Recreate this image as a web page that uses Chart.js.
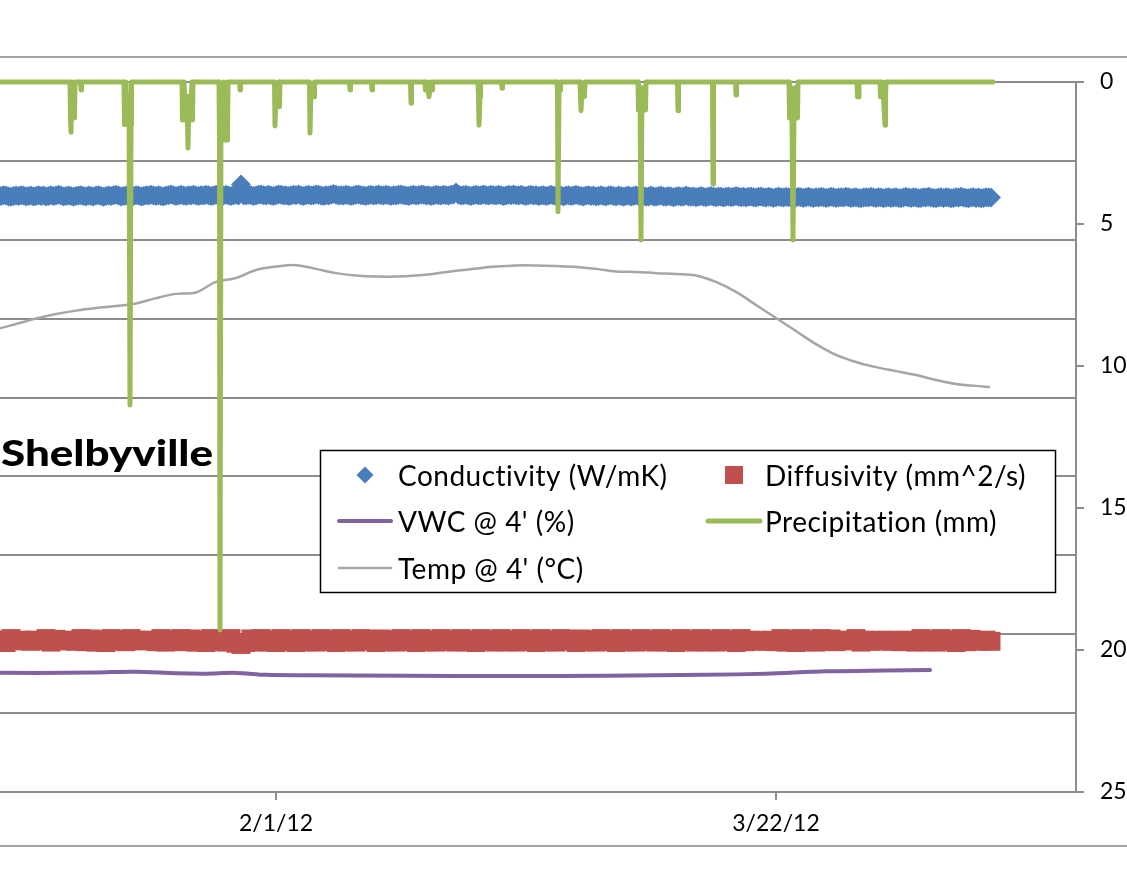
<!DOCTYPE html>
<html>
<head>
<meta charset="utf-8">
<title>Shelbyville</title>
<script src="https://cdn.jsdelivr.net/npm/chart.js@4.4.1/dist/chart.umd.min.js"></script>
<style>
  html, body { margin: 0; padding: 0; background: #fff; }
  #wrap { position: relative; width: 1127px; height: 880px; overflow: hidden; }
  canvas { display: block; }
</style>
</head>
<body>
<div id="wrap"><canvas id="c" width="1127" height="880"></canvas></div>
<script>
// ---------- data (x = day of year 2012) ----------
const xTickDays = [32, 82];
const xTickLabels = ['2/1/12', '3/22/12'];

// Conductivity (W/mK), one reading every 6 hours from day 3.75
const condStartDay = 3.75;
const condStepDays = 0.25;
const conductivity = [
  1.511,1.512,1.510,1.511,1.513,1.512,1.510,1.509,1.511,1.512,1.511,1.513,1.512,1.510,1.511,1.512,1.510,1.511,1.513,1.511,
  1.512,1.510,1.511,1.513,1.511,1.512,1.514,1.512,1.510,1.511,1.512,1.511,1.509,1.511,1.512,1.513,1.511,1.510,1.512,1.511,
  1.510,1.512,1.513,1.511,1.509,1.511,1.512,1.511,1.513,1.514,1.512,1.510,1.511,1.512,1.510,1.509,1.511,1.513,1.512,1.510,
  1.511,1.513,1.512,1.514,1.512,1.511,1.513,1.511,1.510,1.512,1.513,1.515,1.513,1.511,1.512,1.514,1.512,1.511,1.513,1.512,
  1.514,1.512,1.511,1.513,1.512,1.514,1.513,1.511,1.512,1.514,1.515,1.513,1.512,1.514,1.512,1.511,1.513,1.514,1.512,1.540,
  1.513,1.512,1.514,1.513,1.511,1.512,1.514,1.515,1.513,1.512,1.514,1.512,1.511,1.513,1.515,1.514,1.512,1.513,1.511,1.512,
  1.514,1.513,1.515,1.512,1.511,1.513,1.514,1.512,1.513,1.515,1.514,1.512,1.511,1.513,1.512,1.514,1.516,1.514,1.512,1.513,
  1.512,1.514,1.513,1.511,1.512,1.514,1.515,1.513,1.512,1.511,1.513,1.514,1.512,1.513,1.515,1.513,1.512,1.514,1.513,1.511,
  1.513,1.512,1.514,1.515,1.513,1.512,1.511,1.513,1.514,1.512,1.513,1.515,1.514,1.512,1.513,1.511,1.512,1.514,1.513,1.512,
  1.514,1.513,1.512,1.514,1.515,1.520,1.514,1.512,1.513,1.514,1.512,1.511,1.513,1.514,1.512,1.513,1.515,1.513,1.512,1.514,
  1.513,1.512,1.514,1.513,1.511,1.512,1.514,1.513,1.515,1.513,1.512,1.514,1.512,1.511,1.513,1.514,1.512,1.513,1.511,1.512,
  1.513,1.511,1.512,1.514,1.512,1.511,1.513,1.512,1.510,1.512,1.513,1.511,1.512,1.514,1.512,1.511,1.510,1.512,1.513,1.511,
  1.512,1.510,1.511,1.513,1.511,1.510,1.512,1.513,1.511,1.510,1.512,1.511,1.509,1.511,1.512,1.510,1.511,1.513,1.511,1.510,
  1.511,1.509,1.510,1.512,1.510,1.509,1.511,1.512,1.510,1.509,1.511,1.510,1.508,1.510,1.511,1.509,1.510,1.512,1.510,1.509,
  1.510,1.508,1.509,1.511,1.509,1.508,1.510,1.511,1.509,1.508,1.510,1.509,1.507,1.509,1.510,1.508,1.509,1.511,1.509,1.508,
  1.509,1.507,1.509,1.510,1.508,1.507,1.509,1.510,1.508,1.507,1.509,1.508,1.506,1.508,1.510,1.508,1.507,1.509,1.508,1.507,
  1.508,1.507,1.509,1.508,1.506,1.508,1.509,1.507,1.506,1.508,1.507,1.509,1.508,1.506,1.507,1.509,1.508,1.506,1.507,1.508,
  1.507,1.509,1.508,1.506,1.507,1.508,1.506,1.505,1.507,1.508,1.507,1.509,1.507,1.506,1.508,1.507,1.505,1.507,1.508,1.506,
  1.507,1.508,1.506,1.505,1.507,1.509,1.507,1.506,1.508,1.507,1.505,1.506,1.508,1.507,1.509,1.507,1.506,1.505,1.507,1.508,
  1.506,1.508,1.507,1.505,1.506,1.508,1.507,1.509,1.507,1.506,1.505,1.507,1.508,1.506,1.507,1.505,1.506,1.508,1.507,1.507
];

// Diffusivity (mm^2/s), one reading every 12 hours from day 3.5
const diffStartDay = 3.5;
const diffStepDays = 0.5;
const diffusivity = [
  0.388,0.381,0.386,0.379,0.389,0.383,0.385,0.384,0.382,0.385,
  0.384,0.389,0.380,0.387,0.383,0.385,0.384,0.382,0.389,0.381,
  0.388,0.380,0.386,0.379,0.389,0.383,0.387,0.381,0.389,0.385,
  0.384,0.383,0.385,0.381,0.389,0.380,0.387,0.382,0.389,0.381,
  0.388,0.380,0.386,0.379,0.389,0.382,0.387,0.380,0.389,0.377,
  0.374,0.379,0.388,0.381,0.389,0.380,0.386,0.379,0.389,0.382,
  0.387,0.379,0.389,0.381,0.386,0.380,0.389,0.382,0.387,0.379,
  0.389,0.381,0.386,0.380,0.389,0.383,0.387,0.379,0.388,0.381,
  0.386,0.380,0.389,0.382,0.387,0.379,0.389,0.381,0.386,0.380,
  0.389,0.382,0.387,0.380,0.389,0.381,0.386,0.379,0.389,0.382,
  0.387,0.380,0.389,0.381,0.386,0.380,0.389,0.382,0.387,0.379,
  0.389,0.381,0.386,0.380,0.389,0.383,0.387,0.379,0.388,0.381,
  0.386,0.380,0.389,0.382,0.387,0.379,0.389,0.381,0.386,0.380,
  0.389,0.382,0.387,0.380,0.389,0.381,0.386,0.379,0.389,0.382,
  0.387,0.380,0.389,0.381,0.386,0.380,0.389,0.382,0.387,0.379,
  0.389,0.381,0.385,0.383,0.384,0.382,0.385,0.381,0.389,0.380,
  0.387,0.379,0.389,0.381,0.386,0.380,0.389,0.382,0.388,0.381,
  0.385,0.383,0.384,0.389,0.380,0.385,0.382,0.384,0.383,0.385,
  0.382,0.384,0.381,0.385,0.383,0.380,0.389,0.381,0.387,0.380,
  0.389,0.382,0.386,0.379,0.389,0.381,0.387,0.384,0.382,0.385,
  0.382
];

// Volumetric water content at 4 ft
const vwcDays   = [1, 8, 14, 18, 22, 25, 28, 31, 35, 45, 55, 65, 75, 81, 87, 93, 97.4];
const vwcValues = [0.303, 0.302, 0.303, 0.305, 0.301, 0.300, 0.302, 0.297, 0.296,
                   0.295, 0.294, 0.295, 0.297, 0.300, 0.306, 0.308, 0.309];

// Soil temperature at 4 ft (°C)
const tempDays = [2, 4, 6, 8, 10, 12, 14, 16, 18, 20, 22, 24, 26, 28, 30, 32, 34, 36, 38,
                  40, 42, 44, 46, 48, 50, 52, 54, 56, 58, 60, 62, 64, 66, 68, 70, 72, 74,
                  76, 78, 80, 82, 84, 86, 88, 90, 92, 94, 96, 98, 100, 102, 103.4];
const tempValues = [8.80, 8.70, 8.52, 8.33, 8.17, 8.05, 7.96, 7.89, 7.80, 7.61, 7.46, 7.41,
                    7.04, 6.90, 6.62, 6.50, 6.45, 6.58, 6.73, 6.81, 6.85, 6.85, 6.81, 6.74,
                    6.65, 6.57, 6.50, 6.46, 6.46, 6.48, 6.51, 6.58, 6.67, 6.69, 6.73, 6.76,
                    6.81, 7.04, 7.39, 7.85, 8.31, 8.77, 9.23, 9.61, 9.86, 10.04, 10.18,
                    10.32, 10.49, 10.63, 10.70, 10.74];

// Precipitation readings (mm)
const precipDays = [
  0,
  11.40, 11.45, 11.50, 11.60, 11.75, 11.85, 11.90,
  12.45, 12.50, 12.55,
  16.80, 16.85, 17.00, 17.15, 17.30, 17.40, 17.50, 17.55,
  22.60, 22.65, 22.80, 22.95, 23.10, 23.20, 23.30, 23.45, 23.60, 23.65, 23.70,
  26.30, 26.35, 26.40, 26.50, 26.65, 26.80, 26.95, 27.10, 27.15, 27.20,
  28.35, 28.40, 28.45,
  31.85, 31.90, 32.00, 32.15, 32.30, 32.35, 32.40,
  35.35, 35.40, 35.50, 35.65, 35.80, 35.85,
  39.35, 39.40, 39.45,
  41.55, 41.60, 41.65,
  45.45, 45.50, 45.55,
  46.90, 46.95, 47.10, 47.30, 47.45, 47.60, 47.65,
  52.20, 52.25, 52.30, 52.40, 52.45,
  54.55, 54.60, 54.65,
  60.10, 60.15, 60.20, 60.30, 60.40, 60.45,
  62.40, 62.45, 62.50, 62.60, 62.75, 62.85, 62.90,
  68.20, 68.25, 68.40, 68.50, 68.60, 68.75, 68.90, 68.95, 69.00,
  72.15, 72.20, 72.25,
  75.65, 75.70, 75.75,
  77.95, 78.00, 78.05,
  83.30, 83.35, 83.50, 83.60, 83.70, 83.80, 83.95, 84.10, 84.15, 84.20,
  90.10, 90.15, 90.25, 90.30,
  92.40, 92.45, 92.60, 92.75, 92.90, 92.95, 93.00,
  103.7
];
const precipMm = [
  0,
  0, 1.27, 1.77, 0, 1.27, 1.27, 0,
  0, 0.28, 0,
  0, 1.50, 0, 1.50, 0.50, 11.37, 1.50, 0,
  0, 1.34, 0, 1.34, 0.50, 2.32, 0.50, 1.34, 0, 1.34, 0,
  0, 2.05, 19.30, 0.50, 2.05, 0, 2.05, 0.50, 2.05, 0,
  0, 0.28, 0,
  0, 1.55, 0.30, 0.87, 0, 0.87, 0,
  0, 1.80, 0.20, 0.52, 0.52, 0,
  0, 0.28, 0,
  0, 0.28, 0,
  0, 0.75, 0,
  0, 0.28, 0, 0.52, 0, 0.28, 0,
  0, 0.52, 1.52, 0.52, 0,
  0, 0.22, 0,
  0, 0.28, 4.57, 0.28, 0.28, 0,
  0, 0.52, 1.01, 0.20, 0.52, 0.52, 0,
  0, 0.99, 0.20, 5.56, 0.20, 0.99, 0.20, 0.99, 0,
  0, 1.01, 0,
  0, 3.59, 0,
  0, 0.46, 0,
  0, 1.27, 0.20, 1.27, 5.56, 1.00, 0.20, 1.27, 1.27, 0,
  0, 0.52, 0.52, 0,
  0, 0.52, 0, 0.52, 1.52, 0.52, 0,
  0
];

const chartTitle = 'Shelbyville';

// ---------- helpers ----------
const pairs = (xs, ys) => ys.map((y, i) => ({ x: xs[i], y }));
const regular = (start, step, vals) => vals.map((y, i) => ({ x: start + i * step, y }));

const GRID = '#8c8c8c';
const FONT = 'Lato, "Open Sans", sans-serif';

// Frame lines, boxed legend and the site name
const decorations = {
  id: 'decorations',
  beforeDraw(chart) {
    const { ctx, width } = chart;
    ctx.save();
    ctx.fillStyle = '#fff';
    ctx.fillRect(0, 0, width, chart.height);
    ctx.strokeStyle = '#a3a3a3';
    ctx.lineWidth = 2;
    ctx.beginPath();
    ctx.moveTo(0, 57); ctx.lineTo(width, 57);
    ctx.moveTo(0, 846); ctx.lineTo(width, 846);
    ctx.stroke();
    ctx.restore();
  },
  afterDraw(chart) {
    const ctx = chart.ctx;
    ctx.save();

    // legend box
    const box = { x: 320.5, y: 450.5, w: 735, h: 142 };
    ctx.fillStyle = '#fff';
    ctx.fillRect(box.x, box.y, box.w, box.h);
    ctx.strokeStyle = '#000';
    ctx.lineWidth = 1.5;
    ctx.strokeRect(box.x, box.y, box.w, box.h);

    const markerX = [365, 734];
    const textX = [398, 765];
    const rowY = [475, 521, 568];
    ctx.font = '28px ' + FONT;
    ctx.letterSpacing = '0.5px';
    ctx.textBaseline = 'alphabetic';
    chart.data.datasets.forEach((ds, i) => {
      const col = i % 2, row = Math.floor(i / 2);
      const cx = markerX[col], cy = rowY[row];
      if (ds.showLine === false) {
        ctx.fillStyle = ds.backgroundColor;
        ctx.beginPath();
        if (ds.pointStyle === 'rectRot') {
          const r = 8.5;
          ctx.moveTo(cx - r, cy); ctx.lineTo(cx, cy - r);
          ctx.lineTo(cx + r, cy); ctx.lineTo(cx, cy + r);
          ctx.closePath();
        } else {
          ctx.rect(cx - 9, cy - 9, 18, 18);
        }
        ctx.fill();
      } else {
        ctx.strokeStyle = ds.borderColor;
        ctx.lineWidth = ds.borderWidth;
        ctx.lineCap = 'round';
        ctx.beginPath();
        ctx.moveTo(cx - 26, cy); ctx.lineTo(cx + 26, cy);
        ctx.stroke();
      }
      ctx.fillStyle = '#000';
      ctx.fillText(ds.label, textX[col], cy + 10.5);
    });
    ctx.letterSpacing = '0px';

    // site name
    ctx.font = '900 36px ' + FONT;
    const w = ctx.measureText(chartTitle).width;
    ctx.translate(1, 466);
    ctx.scale(212 / w, 1);
    ctx.fillStyle = '#000';
    ctx.fillText(chartTitle, 0, 0);
    ctx.restore();
  }
};

function draw() {
  Chart.defaults.font.family = FONT;
  Chart.defaults.color = '#000';

  new Chart(document.getElementById('c'), {
    type: 'line',
    data: {
      datasets: [
        {
          label: 'Conductivity (W/mK)',
          data: regular(condStartDay, condStepDays, conductivity),
          yAxisID: 'y',
          showLine: false,
          pointStyle: 'rectRot',
          pointRadius: 10,
          pointBorderWidth: 0,
          backgroundColor: '#4a7ebb',
          borderColor: '#4a7ebb',
          order: 4
        },
        {
          label: 'Diffusivity (mm^2/s)',
          data: regular(diffStartDay, diffStepDays, diffusivity),
          yAxisID: 'y',
          showLine: false,
          pointStyle: 'rect',
          pointRadius: 13.4,
          pointBorderWidth: 0,
          backgroundColor: '#c0504d',
          borderColor: '#c0504d',
          order: 3
        },
        {
          label: "VWC @ 4' (%)",
          data: pairs(vwcDays, vwcValues),
          yAxisID: 'y',
          borderColor: '#8064a2',
          backgroundColor: '#8064a2',
          borderWidth: 4,
          borderCapStyle: 'round',
          pointRadius: 0,
          tension: 0.3,
          order: 2
        },
        {
          label: 'Precipitation (mm)',
          data: pairs(precipDays, precipMm),
          yAxisID: 'y1',
          borderColor: '#9bbb59',
          backgroundColor: '#9bbb59',
          borderWidth: 5,
          borderCapStyle: 'round',
          borderJoinStyle: 'round',
          pointRadius: 0,
          tension: 0,
          clip: { left: 0, top: 4, right: 0, bottom: 0 },
          order: 0
        },
        {
          label: "Temp @ 4' (°C)",
          data: pairs(tempDays, tempValues),
          yAxisID: 'y1',
          borderColor: '#a6a6a6',
          backgroundColor: '#a6a6a6',
          borderWidth: 2.5,
          pointRadius: 0,
          tension: 0.35,
          order: 1
        }
      ]
    },
    options: {
      responsive: false,
      animation: false,
      events: [],
      layout: { autoPadding: false, padding: { left: 0, top: 82, right: 0, bottom: 0 } },
      plugins: { legend: { display: false }, tooltip: { enabled: false } },
      scales: {
        x: {
          type: 'linear',
          min: 4.4,
          max: 112,
          afterBuildTicks: scale => { scale.ticks = xTickDays.map(v => ({ value: v })); },
          afterFit: scale => { scale.height = 88; scale.paddingLeft = 0; scale.paddingRight = 0; },
          ticks: {
            autoSkip: false,
            maxRotation: 0,
            minRotation: 0,
            padding: 10,
            font: { size: 23 },
            callback: v => { const i = xTickDays.indexOf(v); return i < 0 ? '' : xTickLabels[i]; }
          },
          grid: { display: true, drawOnChartArea: false, drawTicks: true, tickLength: 8, color: GRID, lineWidth: 2 },
          border: { display: true, color: GRID, width: 2 }
        },
        y: {
          position: 'left',
          min: 0,
          max: 1.8,
          ticks: { display: false, stepSize: 0.2 },
          afterFit: scale => { scale.width = 0; },
          grid: { color: GRID, lineWidth: 2, drawTicks: false },
          border: { display: false }
        },
        y1: {
          position: 'right',
          reverse: true,
          min: 0,
          max: 25,
          ticks: { stepSize: 5, padding: 16, font: { size: 23 } },
          afterFit: scale => { scale.width = 51; },
          grid: { drawOnChartArea: false, drawTicks: true, tickLength: 8, color: GRID, lineWidth: 2 },
          border: { display: true, color: GRID, width: 2 }
        }
      }
    },
    plugins: [decorations]
  });
}

Promise.all([
  document.fonts.load('28px Lato'),
  document.fonts.load('900 36px Lato')
]).then(draw, draw);
</script>
</body>
</html>
